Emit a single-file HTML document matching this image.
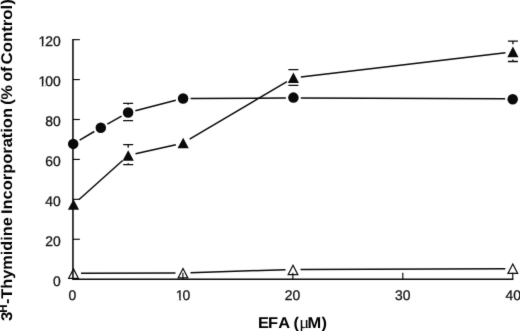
<!DOCTYPE html>
<html><head><meta charset="utf-8"><title>EFA chart</title>
<style>
html,body{margin:0;padding:0;background:#fff;}
body{width:520px;height:331px;overflow:hidden;}
svg{display:block;}
text{text-rendering:geometricPrecision;}
.tk{font-family:"Liberation Sans",Arial,sans-serif;font-size:13.9px;fill:#111;stroke:#111;stroke-width:.3px;}
.lb{font-family:"Liberation Sans",Arial,sans-serif;font-size:15.5px;font-weight:bold;fill:#000;}
.sup{font-family:"Liberation Sans",Arial,sans-serif;font-size:11.5px;font-weight:bold;fill:#000;}
.mu{font-family:"Liberation Serif","DejaVu Serif",serif;font-weight:normal;font-size:17.5px;}
</style></head><body>
<svg width="520" height="331" viewBox="0 0 520 331">
<defs><filter id="soft" color-interpolation-filters="sRGB" x="0" y="0" width="520" height="331" filterUnits="userSpaceOnUse"><feConvolveMatrix order="3" kernelMatrix="0.0081 0.0738 0.0081 0.0738 0.6724 0.0738 0.0081 0.0738 0.0081" divisor="1" edgeMode="duplicate" preserveAlpha="true"/></filter></defs>
<rect width="520" height="331" fill="#fff"/>
<g filter="url(#soft)">
<rect width="520" height="331" fill="#fff"/>
<path d="M72.95 39.07V279.20H513.33" stroke="#0a0a0a" stroke-width="1.55" fill="none" stroke-linejoin="miter"/>
<text x="53.02" y="285.80" class="tk">0</text>
<line x1="72.95" y1="239.27" x2="79.85" y2="239.27" stroke="#0a0a0a" stroke-width="1.15"/>
<text x="45.29 53.02" y="245.87" class="tk">20</text>
<line x1="72.95" y1="199.35" x2="79.85" y2="199.35" stroke="#0a0a0a" stroke-width="1.15"/>
<text x="45.29 53.02" y="205.95" class="tk">40</text>
<line x1="72.95" y1="159.43" x2="79.85" y2="159.43" stroke="#0a0a0a" stroke-width="1.15"/>
<text x="45.29 53.02" y="166.03" class="tk">60</text>
<line x1="72.95" y1="119.50" x2="79.85" y2="119.50" stroke="#0a0a0a" stroke-width="1.15"/>
<text x="45.29 53.02" y="126.10" class="tk">80</text>
<line x1="72.95" y1="79.57" x2="79.85" y2="79.57" stroke="#0a0a0a" stroke-width="1.15"/>
<text x="38.56 45.29 53.02" y="86.17" class="tk">100</text>
<line x1="72.95" y1="39.65" x2="79.85" y2="39.65" stroke="#0a0a0a" stroke-width="1.15"/>
<text x="38.56 45.29 53.02" y="46.25" class="tk">120</text>
<text x="68.38" y="300.35" class="tk">0</text>
<line x1="182.90" y1="279.20" x2="182.90" y2="272.70" stroke="#0a0a0a" stroke-width="1.15"/>
<text x="175.77 182.50" y="300.35" class="tk">10</text>
<line x1="292.85" y1="279.20" x2="292.85" y2="272.70" stroke="#0a0a0a" stroke-width="1.15"/>
<text x="284.72 292.45" y="300.35" class="tk">20</text>
<line x1="402.80" y1="279.20" x2="402.80" y2="272.70" stroke="#0a0a0a" stroke-width="1.15"/>
<text x="395.07 402.80" y="300.35" class="tk">30</text>
<line x1="512.75" y1="279.20" x2="512.75" y2="272.70" stroke="#0a0a0a" stroke-width="1.15"/>
<text x="505.52 513.25" y="300.35" class="tk">40</text>
<path d="M37.8 44.0H41.8V46.8H37.8ZM43.4 44.0H45.45V46.8H43.4Z" fill="#fff"/>
<path d="M37.8 84.0H41.8V86.8H37.8ZM43.4 84.0H45.45V86.8H43.4Z" fill="#fff"/>
<path d="M175.8 298.0H179.25V300.8H175.8ZM180.85 298.0H183.5V300.8H180.85Z" fill="#fff"/>
<line x1="81.00" y1="273.14" x2="175.50" y2="273.01" stroke="#0a0a0a" stroke-width="1.5"/>
<line x1="190.50" y1="272.75" x2="285.50" y2="269.65" stroke="#0a0a0a" stroke-width="1.5"/>
<line x1="300.50" y1="269.38" x2="505.30" y2="268.77" stroke="#0a0a0a" stroke-width="1.5"/>
<path d="M73.50 268.90L78.35 278.30H68.65Z" fill="none" stroke="#0a0a0a" stroke-width="1.2" stroke-linejoin="miter"/>
<path d="M183.00 268.50L187.85 277.90H178.15Z" fill="none" stroke="#0a0a0a" stroke-width="1.2" stroke-linejoin="miter"/>
<path d="M293.00 265.30L297.85 274.70H288.15Z" fill="none" stroke="#0a0a0a" stroke-width="1.2" stroke-linejoin="miter"/>
<path d="M512.80 264.00L517.65 273.40H507.95Z" fill="none" stroke="#0a0a0a" stroke-width="1.2" stroke-linejoin="miter"/>
<line x1="79.67" y1="140.10" x2="94.33" y2="131.50" stroke="#0a0a0a" stroke-width="1.5"/>
<line x1="107.35" y1="124.05" x2="121.55" y2="116.15" stroke="#0a0a0a" stroke-width="1.5"/>
<line x1="135.37" y1="110.65" x2="175.83" y2="100.35" stroke="#0a0a0a" stroke-width="1.5"/>
<line x1="190.60" y1="98.47" x2="285.90" y2="98.03" stroke="#0a0a0a" stroke-width="1.5"/>
<line x1="300.90" y1="98.03" x2="505.20" y2="98.87" stroke="#0a0a0a" stroke-width="1.5"/>
<path d="M123.10 103.40H133.10M123.10 120.60H133.10M128.10 103.40V104.85M128.10 120.15V120.60" stroke="#0a0a0a" stroke-width="1.3" fill="none"/>
<circle cx="73.20" cy="143.90" r="5.25" fill="#0a0a0a"/>
<circle cx="100.80" cy="127.70" r="5.25" fill="#0a0a0a"/>
<circle cx="128.10" cy="112.50" r="5.25" fill="#0a0a0a"/>
<circle cx="183.10" cy="98.50" r="5.25" fill="#0a0a0a"/>
<circle cx="293.40" cy="97.60" r="5.25" fill="#0a0a0a"/>
<circle cx="512.70" cy="99.20" r="5.25" fill="#0a0a0a"/>
<line x1="79.09" y1="199.50" x2="122.61" y2="160.50" stroke="#0a0a0a" stroke-width="1.5"/>
<line x1="135.51" y1="153.84" x2="175.84" y2="144.66" stroke="#0a0a0a" stroke-width="1.5"/>
<line x1="189.61" y1="139.18" x2="286.94" y2="81.62" stroke="#0a0a0a" stroke-width="1.5"/>
<line x1="300.85" y1="76.92" x2="505.45" y2="52.78" stroke="#0a0a0a" stroke-width="1.5"/>
<path d="M123.20 144.60H133.20M123.20 164.70H133.20M128.20 144.60V147.80M128.20 163.20V164.70" stroke="#0a0a0a" stroke-width="1.3" fill="none"/>
<path d="M288.40 69.60H298.40M288.40 85.30H298.40M293.40 69.60V70.10" stroke="#0a0a0a" stroke-width="1.3" fill="none"/>
<path d="M507.90 41.10H517.90M507.90 61.50H517.90M512.90 41.10V44.20M512.90 59.60V61.50" stroke="#0a0a0a" stroke-width="1.3" fill="none"/>
<path d="M73.50 199.20L79.10 209.80H67.90Z" fill="#0a0a0a"/>
<path d="M128.20 150.20L133.80 160.80H122.60Z" fill="#0a0a0a"/>
<path d="M183.15 137.70L188.75 148.30H177.55Z" fill="#0a0a0a"/>
<path d="M293.40 72.50L299.00 83.10H287.80Z" fill="#0a0a0a"/>
<path d="M512.90 46.60L518.50 57.20H507.30Z" fill="#0a0a0a"/>
<text transform="scale(1.06 1)" x="243.30 252.83 262.45 273.58 276.89 282.36 290.00 303.40" y="327.8" class="lb">EFA (<tspan class="mu">μ</tspan>M)</text>
<g transform="translate(12.2 321.6) rotate(-90)"><text x="0.7" y="0" textLength="9.4" lengthAdjust="spacingAndGlyphs" class="lb">3</text><text x="8.9" y="-5.65" class="sup">H</text><text x="17.5" y="0" textLength="86.9" lengthAdjust="spacingAndGlyphs" class="lb">-Thymidine</text><text x="107.5" y="0" textLength="106.05" lengthAdjust="spacingAndGlyphs" class="lb">Incorporation</text><text x="216.8" y="0" textLength="19.9" lengthAdjust="spacingAndGlyphs" class="lb">(%</text><text x="240.0" y="0" textLength="15.0" lengthAdjust="spacingAndGlyphs" class="lb">of</text><text x="257.15" y="0" textLength="65.35" lengthAdjust="spacingAndGlyphs" class="lb">Control)</text></g>
</g>
</svg>
</body></html>
